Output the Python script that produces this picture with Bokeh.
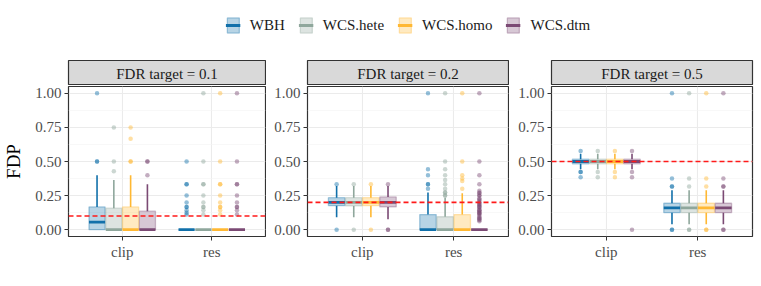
from bokeh.plotting import figure
from bokeh.models import (ColumnDataSource, FactorRange, Range1d, FixedTicker,
                          NumeralTickFormatter, Span, Legend, LegendItem)
from bokeh.core.properties import value
from bokeh.transform import dodge
from bokeh.layouts import row, column
from bokeh.embed import file_html
from bokeh.resources import INLINE

# ---------------- data ----------------
methods = ["WBH", "WCS.hete", "WCS.homo", "WCS.dtm"]
colors = ["#1170AA", "#8FA79C", "#FFB833", "#7B4A74"]
categories = ["clip", "res"]
targets = [0.1, 0.2, 0.5]
panel_titles = ["FDR target = 0.1", "FDR target = 0.2", "FDR target = 0.5"]
y_ticks = [0.0, 0.25, 0.5, 0.75, 1.0]
y_minor_ticks = [0.125, 0.375, 0.625, 0.875]

# order of the 8 groups: clip (WBH, hete, homo, dtm), res (WBH, hete, homo, dtm)
# FDR target = 0.1
fdr01_lower = [0, 0, 0, 0, 0, 0, 0, 0]
fdr01_q1 = [0, 0, 0, 0, 0, 0, 0, 0]
fdr01_median = [0.056, 0, 0, 0, 0, 0, 0, 0]
fdr01_q3 = [0.167, 0.158, 0.167, 0.136, 0, 0, 0, 0]
fdr01_upper = [0.4, 0.364, 0.4, 0.333, 0, 0, 0, 0]
fdr01_outliers = [
    [0.5, 0.5, 1.0],
    [0.429, 0.5, 0.75],
    [0.5, 0.5, 0.667, 0.75],
    [0.4, 0.5, 0.5],
    [0.111, 0.125, 0.143, 0.167, 0.167, 0.2, 0.25, 0.333, 0.333, 0.5],
    [0.111, 0.143, 0.167, 0.167, 0.2, 0.25, 0.333, 0.333, 0.5, 1.0],
    [0.111, 0.143, 0.167, 0.167, 0.2, 0.25, 0.333, 0.333, 0.5, 1.0],
    [0.111, 0.143, 0.167, 0.167, 0.2, 0.25, 0.333, 0.333, 0.5, 1.0],
]

# FDR target = 0.2
fdr02_lower = [0.091, 0.091, 0.091, 0.077, 0, 0, 0, 0]
fdr02_q1 = [0.176, 0.174, 0.176, 0.167, 0, 0, 0, 0]
fdr02_median = [0.2, 0.2, 0.2, 0.2, 0, 0, 0, 0]
fdr02_q3 = [0.235, 0.235, 0.235, 0.24, 0.111, 0.095, 0.111, 0]
fdr02_upper = [0.32, 0.32, 0.32, 0.32, 0.273, 0.235, 0.267, 0]
fdr02_outliers = [
    [0, 0.333],
    [0, 0.333],
    [0, 0.333],
    [0, 0, 0.333],
    [0.3, 0.333, 0.333, 0.4, 0.444, 1.0],
    [0.25, 0.25, 0.273, 0.273, 0.3, 0.333, 0.364, 0.4, 0.444, 0.5, 1.0],
    [0.3, 0.357, 0.375, 0.4, 0.5, 1.0],
    [0.0625, 0.071, 0.077, 0.083, 0.091, 0.1, 0.111, 0.118, 0.125, 0.125,
     0.133, 0.143, 0.143, 0.154, 0.167, 0.167, 0.176, 0.182, 0.188, 0.2,
     0.2, 0.214, 0.222, 0.231, 0.25, 0.25, 0.267, 0.273, 0.286, 0.333,
     0.4, 0.5, 1.0],
]

# FDR target = 0.5
fdr05_lower = [0.444, 0.444, 0.444, 0.444, 0.04, 0.04, 0.04, 0.04]
fdr05_q1 = [0.483, 0.483, 0.483, 0.483, 0.125, 0.125, 0.125, 0.125]
fdr05_median = [0.5, 0.5, 0.5, 0.5, 0.16, 0.16, 0.16, 0.16]
fdr05_q3 = [0.517, 0.517, 0.517, 0.517, 0.194, 0.194, 0.194, 0.194]
fdr05_upper = [0.556, 0.556, 0.556, 0.556, 0.29, 0.29, 0.29, 0.29]
fdr05_outliers = [
    [0.385, 0.423, 0.423, 0.577],
    [0.385, 0.423, 0.577],
    [0.385, 0.423, 0.577],
    [0, 0.385, 0.423, 0.577],
    [0, 0, 0.316, 0.316, 0.375, 1.0],
    [0, 0, 0.316, 0.375, 1.0],
    [0, 0, 0.316, 0.375, 1.0],
    [0, 0, 0.316, 0.316, 0.375, 1.0],
]

panels = [
    (fdr01_lower, fdr01_q1, fdr01_median, fdr01_q3, fdr01_upper, fdr01_outliers),
    (fdr02_lower, fdr02_q1, fdr02_median, fdr02_q3, fdr02_upper, fdr02_outliers),
    (fdr05_lower, fdr05_q1, fdr05_median, fdr05_q3, fdr05_upper, fdr05_outliers),
]

# ---------------- style ----------------
FONT = "Liberation Serif"
offsets = [-0.28125, -0.09375, 0.09375, 0.28125]
box_w = 0.18
left_borders = [63, 41, 42]
right_borders = [1, 1, 8]
widths = [266, 243, 251]


def box_glyphs(fig, src, i, c):
    xd = dodge("cat", offsets[i], range=fig.x_range)
    xl = dodge("cat", offsets[i] - box_w / 2, range=fig.x_range)
    xr = dodge("cat", offsets[i] + box_w / 2, range=fig.x_range)
    w1 = fig.segment(x0=xd, y0="q3", x1=xd, y1="upper", source=src,
                     line_color=c, line_width=1.6)
    w2 = fig.segment(x0=xd, y0="q1", x1=xd, y1="lower", source=src,
                     line_color=c, line_width=1.6)
    b = fig.vbar(x=xd, width=box_w, bottom="q1", top="q3", source=src,
                 fill_color=c, fill_alpha=0.3, line_color=c, line_alpha=0.35,
                 line_width=1.3)
    m = fig.segment(x0=xl, y0="median", x1=xr, y1="median", source=src,
                    line_color=c, line_width=2.8)
    return w1, w2, b, m


legend_sources = []
cols = []
for k, (lo, q1, med, q3, up, outs) in enumerate(panels):
    lb = left_borders[k]
    rb = right_borders[k]
    w = widths[k]

    # strip: one categorical slot holding the panel title
    s = figure(width=w, height=26, x_range=FactorRange(factors=[panel_titles[k]]),
               y_range=FactorRange(factors=[panel_titles[k]]),
               x_axis_type=None, y_axis_type=None, toolbar_location=None,
               output_backend="svg", min_border_left=lb, min_border_right=rb,
               min_border_top=1, min_border_bottom=0)
    s.background_fill_color = "#D9D9D9"
    s.outline_line_color = "#333333"
    s.outline_line_width = 1.2
    s.border_fill_color = "white"
    s.grid.grid_line_color = None
    tsrc = ColumnDataSource(dict(t=[panel_titles[k]]))
    s.text(x="t", y=dodge("t", -0.05, range=s.y_range), text="t", source=tsrc,
           text_align="center", text_baseline="middle", text_font=value(FONT),
           text_font_size="15px", text_color="#1A1A1A")

    p = figure(width=w, height=200,
               x_range=FactorRange(factors=categories, range_padding=0.1,
                                   range_padding_units="absolute"),
               y_range=Range1d(-0.05, 1.05), toolbar_location=None,
               output_backend="svg", min_border_left=lb, min_border_right=rb,
               min_border_top=1, min_border_bottom=49)
    p.background_fill_color = "white"
    p.border_fill_color = "white"
    p.outline_line_color = "#333333"
    p.outline_line_width = 1.2

    for i, m in enumerate(methods):
        c = colors[i]
        idx = [i, 4 + i]
        src = ColumnDataSource(dict(
            cat=categories,
            lower=[lo[j] for j in idx], q1=[q1[j] for j in idx],
            median=[med[j] for j in idx], q3=[q3[j] for j in idx],
            upper=[up[j] for j in idx]))
        if k == 0:
            legend_sources.append(src)
        box_glyphs(p, src, i, c)
        ocat, oval = [], []
        for ci, j in enumerate(idx):
            for v in outs[j]:
                ocat.append(categories[ci])
                oval.append(v)
        osrc = ColumnDataSource(dict(cat=ocat, val=oval))
        p.scatter(x=dodge("cat", offsets[i], range=p.x_range), y="val",
                  source=osrc, size=4.5, fill_color=c, fill_alpha=0.45,
                  line_color=None)

    p.add_layout(Span(location=targets[k], dimension="width", line_color="#FF1A1A",
                      line_dash="5 3", line_width=1.6))

    p.yaxis.ticker = FixedTicker(ticks=y_ticks, minor_ticks=y_minor_ticks)
    p.yaxis.formatter = NumeralTickFormatter(format="0.00")
    for ax in (p.xaxis, p.yaxis):
        ax.axis_line_color = None
        ax.major_tick_line_color = "#333333"
        ax.major_tick_out = 4
        ax.major_tick_in = 0
        ax.minor_tick_line_color = None
        ax.major_label_text_font = FONT
        ax.major_label_text_font_size = "15px"
        ax.major_label_text_color = "#4D4D4D"
        ax.major_label_standoff = 3
    p.xgrid.grid_line_color = "#EBEBEB"
    p.xgrid.grid_line_width = 1.1
    p.ygrid.grid_line_color = "#EBEBEB"
    p.ygrid.grid_line_width = 1.1
    p.ygrid.minor_grid_line_color = "#F3F3F3"
    p.ygrid.minor_grid_line_width = 0.6
    if k == 0:
        p.yaxis.axis_label = "FDP"
        p.yaxis.axis_label_text_font = FONT
        p.yaxis.axis_label_text_font_size = "19px"
        p.yaxis.axis_label_text_font_style = "normal"
        p.yaxis.axis_label_text_color = "black"
        p.yaxis.axis_label_standoff = 8
    cols.append(column(s, p, spacing=0))

# legend figure
lg = figure(width=761, height=59, x_range=FactorRange(factors=categories),
            y_range=Range1d(-0.05, 1.05), x_axis_type=None, y_axis_type=None,
            toolbar_location=None, output_backend="svg", min_border_left=63,
            min_border_right=9, min_border_top=0, min_border_bottom=9)
lg.outline_line_color = None
lg.background_fill_color = "white"
lg.border_fill_color = "white"
lg.grid.grid_line_color = None

legend_kw = dict(orientation="horizontal", location="center",
                 border_line_color=None, background_fill_alpha=0,
                 inactive_fill_alpha=0, glyph_width=15, glyph_height=19,
                 spacing=13, label_standoff=10, padding=0, margin=0,
                 label_text_font=FONT, label_text_font_size="15px",
                 label_text_color="#1A1A1A")

# keys: hidden copies of the panel-1 box glyphs (labels transparent)
key_items = []
text_items = []
for i, m in enumerate(methods):
    w1, w2, b, med_r = box_glyphs(lg, legend_sources[i], i, colors[i])
    for r in (w1, w2, b, med_r):
        r.visible = False
    key_items.append(LegendItem(label=m, renderers=[b, med_r]))
    empty = lg.segment(x0=[], y0=[], x1=[], y1=[], line_color=colors[i])
    text_items.append(LegendItem(label=m, renderers=[empty]))

key_legend = Legend(items=key_items, label_text_alpha=0, **legend_kw)
text_legend = Legend(items=text_items, **legend_kw)
lg.add_layout(key_legend, "center")
lg.add_layout(text_legend, "center")

layout = column(lg, row(*cols, spacing=0), spacing=0)
open("out.html", "w").write(file_html(layout, INLINE))
